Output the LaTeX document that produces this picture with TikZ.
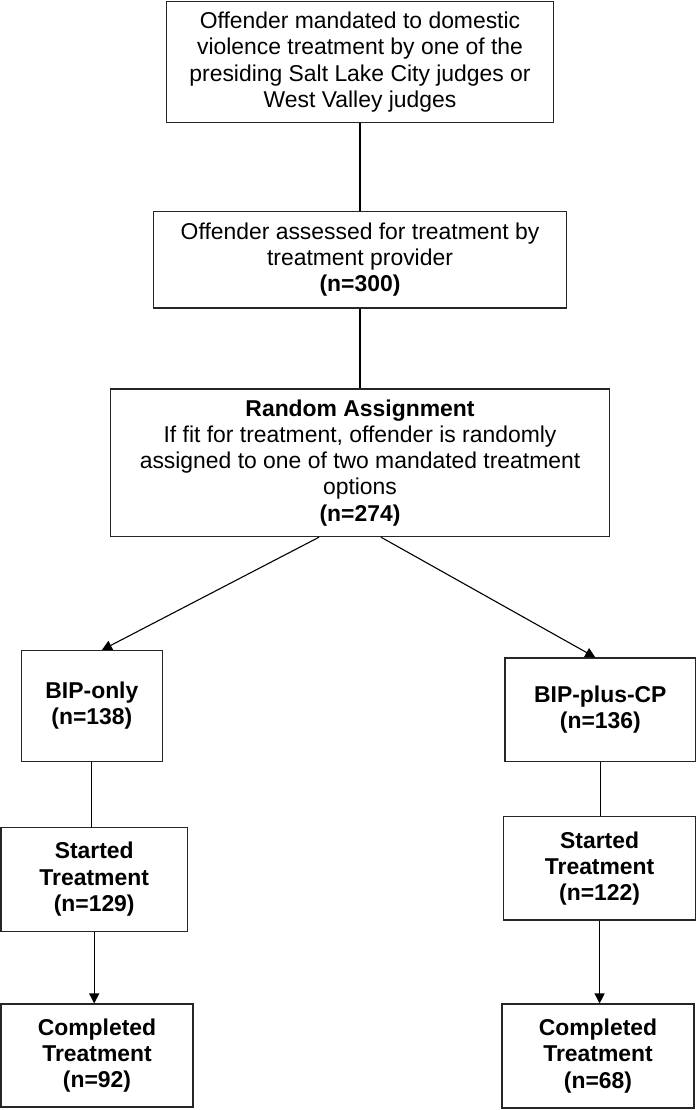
\documentclass[tikz,border=0pt]{standalone}
\usepackage{fontspec}
\setmainfont{Liberation Sans}
\usetikzlibrary{arrows.meta}
\tikzset{
  box/.style={rectangle, draw=black!85, line width=1.1pt, align=center, inner sep=0pt,
    font=\fontsize{22.9}{26.2}\selectfont},
  boldbox/.style={box, font=\fontsize{22.9}{26.2}\selectfont\bfseries},
  link/.style={draw=black, line width=1.1pt},
  flow/.style={link, -{Triangle[length=10pt, width=10pt]}}
}
\begin{document}
\begin{tikzpicture}[x=1pt, y=-1pt]
  \useasboundingbox (0,0) rectangle (697,1110);
  \node[box, minimum width=387pt, minimum height=121.7pt] (court) at (360, 62)
    {Offender mandated to domestic\\violence treatment by one of the\\presiding Salt Lake City judges or\\West Valley judges};
  \node[box, minimum width=413pt, minimum height=96.3pt] (screen) at (360, 259.8)
    {Offender assessed for treatment by\\treatment provider\\\textbf{(n=300)}};
  \node[box, minimum width=499pt, minimum height=147.7pt] (assign) at (360, 462.8)
    {\textbf{Random Assignment}\\If fit for treatment, offender is randomly\\assigned to one of two mandated treatment\\options\\\textbf{(n=274)}};
  \node[boldbox, minimum width=140.8pt, minimum height=110.5pt] (bip) at (91.9, 705.8) {BIP-only\\(n=138)};
  \node[boldbox, minimum width=190.6pt, minimum height=103.7pt] (bipcp) at (600.3, 709.8) {BIP-plus-CP\\(n=136)};
  \node[boldbox, minimum width=186.5pt, minimum height=103.7pt] (startl) at (94.2, 879.2) {Started\\Treatment\\(n=129)};
  \node[boldbox, minimum width=192pt, minimum height=103.3pt] (startr) at (599.6, 868.3) {Started\\Treatment\\(n=122)};
  \node[boldbox, minimum width=192pt, minimum height=103pt] (donel) at (97, 1055.5) {Completed\\Treatment\\(n=92)};
  \node[boldbox, minimum width=192pt, minimum height=104pt] (doner) at (598, 1056) {Completed\\Treatment\\(n=68)};
  \draw[link] (court.south) -- (screen.north);
  \draw[link] (screen.south) -- (assign.north);
  \draw[flow] ([xshift=-41pt]assign.south) -- ([xshift=10pt]bip.north);
  \draw[flow] ([xshift=21pt]assign.south) -- ([xshift=-5pt]bipcp.north);
  \draw[link] (bip.south) -- (bip.south |- startl.north);
  \draw[link] (bipcp.south) -- (bipcp.south |- startr.north);
  \draw[flow] (startl.south) -- (startl.south |- donel.north);
  \draw[flow] (startr.south) -- (startr.south |- doner.north);
\end{tikzpicture}
\end{document}
